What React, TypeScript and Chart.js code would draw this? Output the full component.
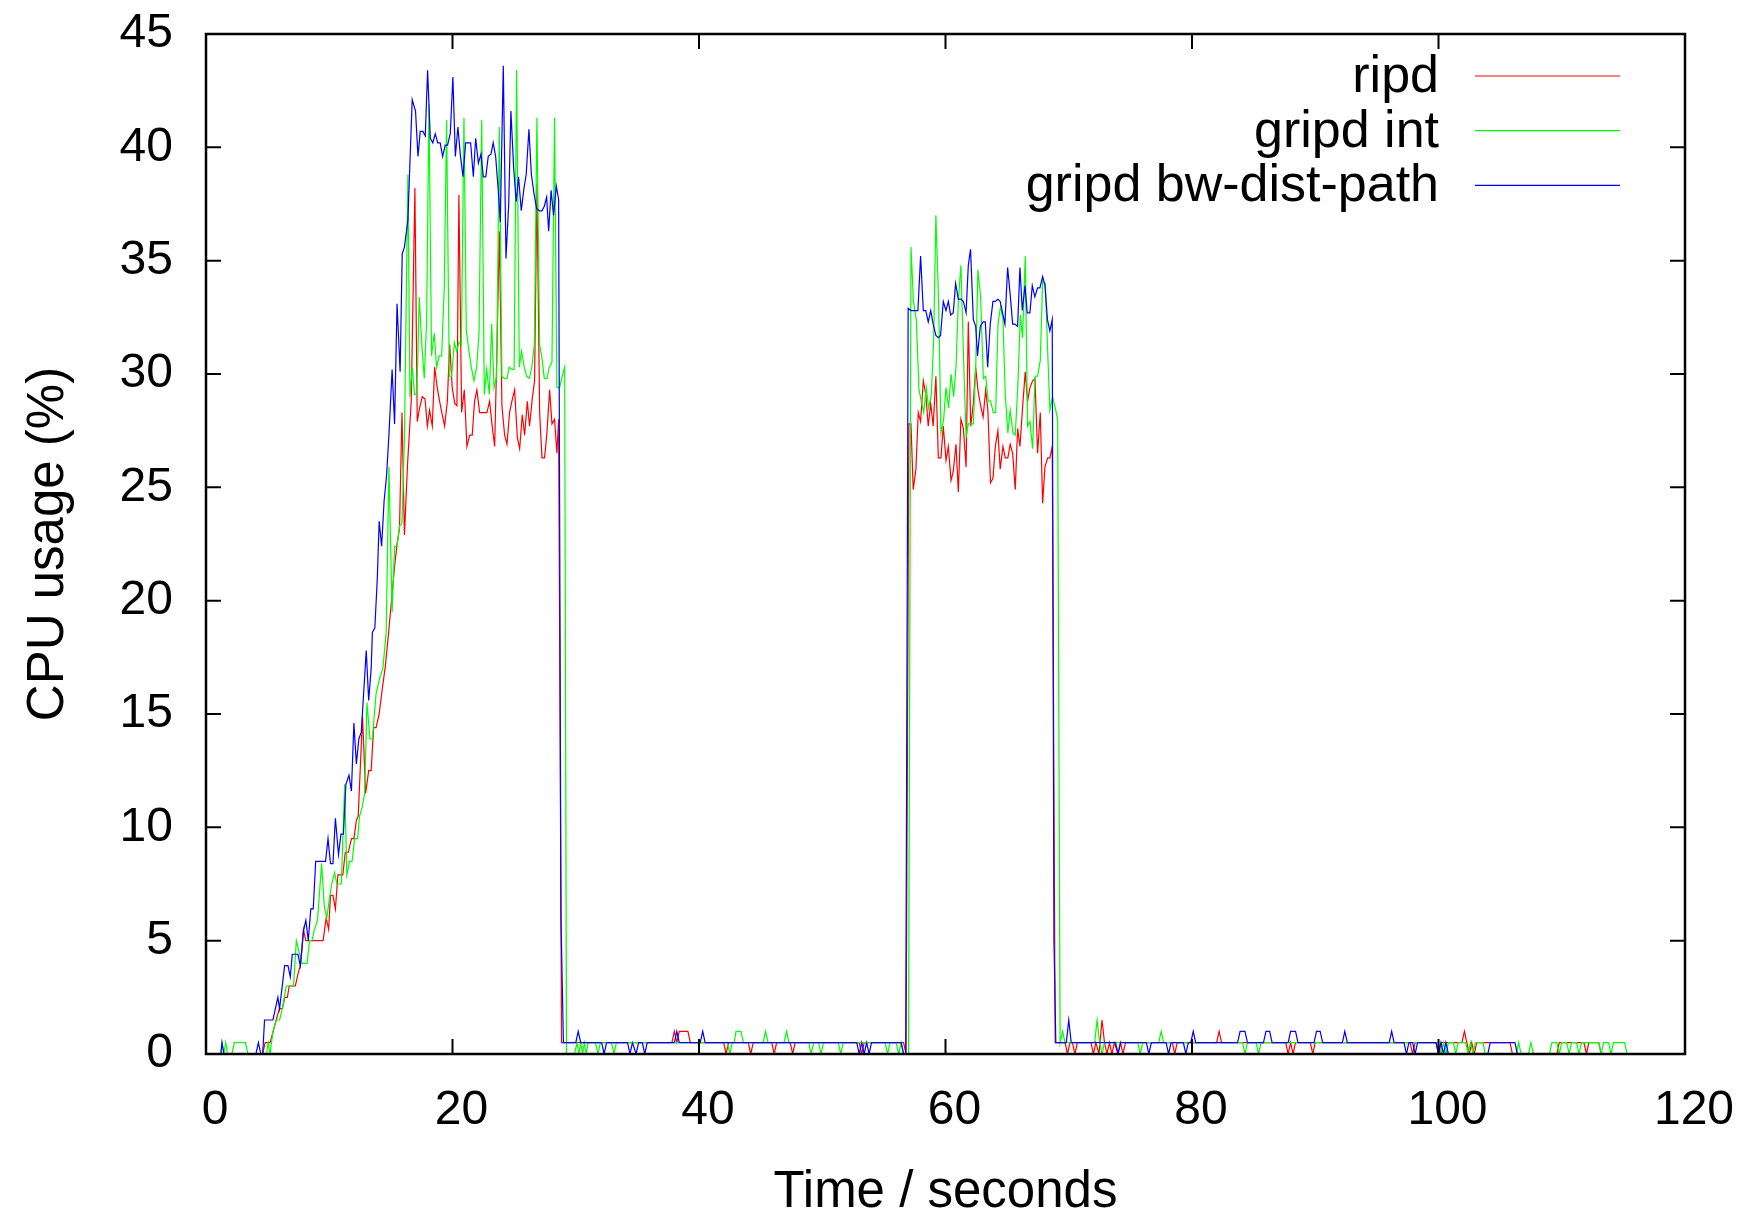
import React, { useEffect, useRef } from 'react';
import { Chart, registerables } from 'chart.js';

Chart.register(...registerables);

type Pt = [number, number];

const FONT_FAMILY = "'Liberation Sans', Arial, sans-serif";
const xTickValues = [0, 20, 40, 60, 80, 100, 120];
const yTickValues = [0, 5, 10, 15, 20, 25, 30, 35, 40, 45];
const xTitle = 'Time / seconds';
const yTitle = 'CPU usage (%)';
const seriesLabels = ['ripd', 'gripd int', 'gripd bw-dist-path'];
const seriesColors = ['#ff0000', '#00ff00', '#0000ff'];

// ---- ripd (red) ----
const ripdRise: Pt[] = [
  [1.2, 0], [4.6, 0], [4.8, 0.5], [5.2, 0.5], [5.45, 1.0], [5.7, 1.5], [5.95, 2.0], [6.2, 2.0], [6.4, 2.5], [6.6, 2.5],
  [6.75, 3.0], [7.25, 3.0], [7.45, 3.5], [7.7, 4.0], [7.9, 5.5], [8.1, 5.0], [9.5, 5.0], [9.75, 6.0], [9.95, 5.5],
  [10.1, 7.0], [10.3, 7.0], [10.5, 6.4], [10.7, 7.9], [11.1, 7.9], [11.3, 8.9], [11.55, 8.9], [11.8, 9.5], [12.0, 9.5],
  [12.2, 10.3], [12.35, 10.5], [12.5, 12.4], [12.7, 14.9], [12.95, 11.5], [13.2, 12.5], [13.4, 12.5], [13.6, 14.4],
  [13.8, 14.4], [14.05, 15.0], [14.3, 16.1], [14.55, 17.1], [14.8, 18.5], [15.05, 20.0], [15.3, 21.5], [15.5, 22.5],
  [15.7, 23.2], [15.9, 28.3], [16.1, 22.9], [16.35, 26.0], [16.65, 28.8],
];
const ripdPlateau1: Pt[] = [
  [16.95, 38.2], [17.14, 27.9], [17.33, 28.5], [17.55, 29.0], [17.77, 28.9], [17.96, 27.7], [18.14, 28.4], [18.36, 27.7],
  [18.55, 30.3], [18.76, 29.4], [18.95, 28.8], [19.17, 28.2], [19.36, 27.7], [19.58, 28.8], [19.77, 31.3], [19.98, 29.4],
  [20.18, 28.7], [20.36, 28.6], [20.52, 37.9], [20.74, 28.3], [20.96, 29.3], [21.17, 26.8], [21.39, 27.3], [21.6, 27.3],
  [21.79, 28.8], [21.98, 29.3], [22.2, 28.3], [22.41, 28.3], [22.6, 28.3], [22.79, 28.3], [23.01, 28.8], [23.2, 27.8],
  [23.42, 26.8], [23.6, 30.9], [23.8, 36.3], [24.01, 28.6], [24.23, 27.3], [24.42, 26.9], [24.63, 28.3], [24.82, 28.8],
  [25.04, 29.3], [25.26, 27.2], [25.45, 26.7], [25.66, 28.2], [25.85, 27.3], [26.07, 28.8], [26.25, 27.7], [26.47, 28.9],
  [26.66, 29.7], [26.85, 38.4], [27.07, 28.3], [27.26, 26.3], [27.47, 26.3], [27.66, 27.4], [27.88, 29.3], [28.07, 27.8],
  [28.28, 28.0], [28.47, 26.5], [28.61, 28.0], [28.85, 0.5],
];
const ripdIdle1: Pt[] = [
  [37.8, 0.5], [38.0, 1.0], [38.2, 0.5], [38.4, 1.0], [39.1, 1.0], [39.3, 0.5], [42.0, 0.5], [42.2, 0], [42.4, 0.5],
  [44.0, 0.5], [44.2, 0], [44.4, 0.5], [45.9, 0.5], [46.1, 0], [46.3, 0.5], [47.4, 0.5], [47.6, 0], [47.8, 0.5],
  [53.0, 0.5], [53.2, 0], [53.4, 0.5], [56.6, 0.5], [56.8, 0],
];
const ripdPlateau2: Pt[] = [
  [57.03, 27.8], [57.2, 27.8], [57.38, 24.9], [57.6, 25.8], [57.79, 28.3], [57.98, 27.9], [58.2, 29.7], [58.4, 29.1],
  [58.6, 27.7], [58.8, 28.7], [59.0, 27.7], [59.22, 29.9], [59.42, 26.3], [59.63, 26.3], [59.82, 27.7], [60.04, 26.2],
  [60.23, 26.8], [60.45, 25.3], [60.63, 25.7], [60.85, 26.9], [61.04, 24.8], [61.25, 28.0], [61.45, 27.6], [61.67, 25.9],
  [61.85, 32.3], [62.05, 27.7], [62.26, 28.7], [62.45, 30.3], [62.63, 29.3], [62.85, 28.6], [63.05, 28.1], [63.26, 29.3],
  [63.44, 28.4], [63.65, 25.2], [63.85, 25.4], [64.04, 26.8], [64.25, 27.5], [64.44, 25.8], [64.66, 26.8], [64.85, 26.3],
  [65.06, 26.3], [65.25, 26.9], [65.45, 26.5], [65.66, 24.9], [65.85, 27.6], [66.04, 26.8], [66.25, 28.5], [66.47, 30.1],
  [66.66, 28.8], [66.85, 29.4], [67.07, 29.7], [67.26, 29.8], [67.47, 26.5], [67.69, 28.3], [67.88, 24.3], [68.07, 25.9],
  [68.29, 26.3], [68.47, 26.3], [68.66, 26.8], [68.9, 0.5],
];
const ripdIdle2: Pt[] = [
  [69.7, 0.5], [69.9, 0], [70.1, 0.5], [70.3, 0.5], [70.5, 0], [70.7, 0.5], [71.8, 0.5], [72.0, 0], [72.2, 0.5],
  [72.45, 0], [72.7, 1.5], [72.9, 0.5], [73.1, 0], [73.3, 0.5], [73.5, 0], [73.7, 0.5], [74.0, 0], [74.2, 0.5],
  [74.4, 0], [74.6, 0.5], [78.4, 0.5], [78.6, 0], [78.8, 0.5], [82.0, 0.5], [82.2, 1.0], [82.4, 0.5], [87.6, 0.5],
  [87.8, 0], [88.0, 0.5], [88.2, 0], [88.4, 0.5], [89.6, 0.5], [89.8, 0], [90.0, 0.5], [97.7, 0.5], [97.9, 0],
  [98.1, 0.5], [99.8, 0.5], [100.0, 0], [100.2, 0.5], [101.9, 0.5], [102.1, 1.0], [102.3, 0.5], [102.5, 0], [102.7, 0.5],
  [102.9, 0], [103.1, 0.5], [105.8, 0.5], [106.0, 0], [109.6, 0], [109.8, 0.5], [111.8, 0.5], [112.0, 0], [112.2, 0.5],
  [113.0, 0.5], [113.2, 0], [115.3, 0],
];

// ---- gripd int (green) ----
const gintRise: Pt[] = [
  [1.2, 0], [1.3, 0.5], [1.45, 0], [1.6, 0.5], [1.75, 0], [2.1, 0], [2.3, 0.5], [3.2, 0.5], [3.4, 0], [4.9, 0],
  [5.05, 0.5], [5.2, 0], [5.43, 1.0], [5.7, 1.5], [5.97, 1.5], [6.19, 2.0], [6.35, 2.5], [6.51, 3.0], [7.1, 3.0],
  [7.33, 5.0], [7.55, 4.5], [7.8, 4.0], [8.2, 4.0], [8.4, 5.0], [8.6, 5.0], [8.8, 5.5], [9.05, 5.9], [9.38, 8.4],
  [9.6, 6.5], [9.8, 6.0], [10.0, 6.8], [10.2, 7.5], [10.43, 8.0], [10.62, 7.5], [10.98, 7.5], [11.25, 11.9], [11.43, 7.9],
  [11.65, 8.5], [11.85, 8.5], [12.06, 9.5], [12.3, 9.5], [12.46, 10.5], [12.68, 10.9], [12.87, 11.5], [13.06, 15.5],
  [13.3, 13.9], [13.5, 13.9], [13.8, 15.9], [14.1, 16.6], [14.35, 17.0], [14.62, 18.6], [14.84, 25.9], [15.1, 19.5],
  [15.3, 22.4], [15.5, 22.4], [15.7, 23.3], [15.9, 23.4], [16.1, 27.2],
];
const gintPlateau1: Pt[] = [
  [16.38, 38.8], [16.55, 29.0], [16.73, 30.3], [16.92, 29.1], [17.11, 29.1], [17.3, 33.4], [17.52, 31.2], [17.71, 29.8],
  [17.9, 32.3], [18.09, 41.9], [18.3, 30.8], [18.52, 31.8], [18.71, 30.3], [18.93, 30.8], [19.12, 30.8], [19.33, 33.8],
  [19.52, 41.2], [19.74, 29.9], [19.93, 29.9], [20.15, 31.4], [20.34, 31.0], [20.52, 31.4], [20.72, 31.3], [20.93, 41.3],
  [21.12, 31.9], [21.34, 31.0], [21.52, 30.3], [21.74, 29.7], [21.96, 30.3], [22.15, 31.8], [22.37, 41.2], [22.58, 29.1],
  [22.77, 30.2], [22.99, 29.1], [23.18, 32.2], [23.37, 29.4], [23.58, 29.9], [23.8, 40.9], [24.01, 29.9], [24.2, 29.8],
  [24.42, 29.8], [24.6, 30.3], [24.82, 30.2], [25.0, 30.2], [25.2, 43.4], [25.42, 30.3], [25.6, 31.0], [25.82, 30.3],
  [26.01, 29.9], [26.23, 29.8], [26.44, 30.3], [26.64, 31.3], [26.85, 41.3], [27.07, 31.3], [27.26, 30.7], [27.45, 29.8],
  [27.66, 29.8], [27.85, 30.3], [28.07, 30.5], [28.28, 41.3], [28.47, 29.4], [28.69, 29.4], [28.9, 29.9], [29.1, 30.3],
  [29.25, 0],
];
const gintIdle1: Pt[] = [
  [29.9, 0], [30.1, 0.5], [30.25, 0], [30.4, 0.5], [30.55, 0], [30.7, 0.5], [30.85, 0], [31.0, 0.5], [31.6, 0.5],
  [31.8, 0], [32.0, 0.5], [32.9, 0.5], [33.1, 0], [33.3, 0.5], [42.3, 0.5], [42.5, 0], [42.7, 0.5], [42.85, 0.5],
  [43.0, 1.0], [43.4, 1.0], [43.6, 0.5], [45.2, 0.5], [45.4, 1.0], [45.6, 0.5], [46.9, 0.5], [47.1, 1.0], [47.3, 0.5],
  [48.9, 0.5], [49.1, 0], [49.3, 0.5], [49.7, 0.5], [49.9, 0], [50.1, 0.5], [51.3, 0.5], [51.5, 0], [51.7, 0.5],
  [55.1, 0.5], [55.3, 0], [55.5, 0.5], [56.0, 0.5], [56.2, 0], [56.4, 0.5], [56.6, 0], [57.0, 0],
];
const gintPlateau2: Pt[] = [
  [57.2, 35.6], [57.4, 33.2], [57.63, 32.4], [57.85, 29.3], [58.04, 28.8], [58.23, 28.3], [58.44, 29.4], [58.63, 28.5],
  [58.85, 29.1], [59.04, 31.5], [59.22, 37.0], [59.45, 33.0], [59.63, 27.4], [59.85, 28.0], [60.04, 29.4], [60.25, 28.5],
  [60.45, 30.0], [60.66, 29.0], [60.85, 30.3], [61.04, 33.2], [61.25, 34.8], [61.45, 31.0], [61.67, 27.2], [61.85, 27.8],
  [62.05, 27.8], [62.26, 27.8], [62.45, 30.3], [62.63, 34.6], [62.85, 33.4], [63.07, 29.8], [63.26, 29.9], [63.47, 28.8],
  [63.66, 28.8], [63.88, 28.3], [64.07, 28.3], [64.26, 32.2], [64.47, 33.0], [64.66, 32.4], [64.85, 29.1], [65.06, 27.4],
  [65.25, 28.4], [65.47, 27.4], [65.66, 27.3], [65.88, 29.6], [66.07, 32.6], [66.25, 31.6], [66.47, 35.2], [66.66, 27.7],
  [66.85, 27.9], [67.07, 26.7], [67.26, 29.9], [67.47, 29.9], [67.69, 30.6], [67.88, 34.1], [68.1, 34.0], [68.29, 31.0],
  [68.47, 28.4], [68.69, 29.0], [68.9, 28.5], [69.1, 28.0], [69.3, 0.5],
];
const gintIdle2: Pt[] = [
  [69.5, 1.0], [69.7, 0.5], [72.1, 0.5], [72.3, 1.5], [72.5, 0.5], [72.7, 0], [72.9, 0.5], [75.6, 0.5], [75.8, 0],
  [76.0, 0.5], [77.3, 0.5], [77.5, 1.0], [77.7, 0.5], [84.1, 0.5], [84.3, 0], [84.5, 0.5], [85.2, 0.5], [85.4, 0],
  [85.6, 0.5], [100.0, 0.5], [100.2, 0], [100.4, 0.5], [100.6, 0], [100.8, 0.5], [101.2, 0.5], [101.4, 0], [101.6, 0.5],
  [102.2, 0.5], [102.4, 0], [102.6, 0.5], [102.8, 0], [103.0, 0.5], [103.6, 0.5], [103.8, 0], [106.3, 0], [106.5, 0.5],
  [106.7, 0], [107.3, 0], [107.5, 0.5], [107.7, 0], [109.0, 0], [109.2, 0.5], [109.6, 0.5], [109.8, 0], [110.0, 0.5],
  [110.4, 0.5], [110.6, 0], [110.8, 0.5], [111.2, 0.5], [111.4, 0], [111.6, 0.5], [113.0, 0.5], [113.2, 0], [113.4, 0.5],
  [113.8, 0.5], [114.0, 0], [114.2, 0.5], [115.1, 0.5], [115.3, 0],
];

// ---- gripd bw-dist-path (blue) ----
const gbwRise: Pt[] = [
  [1.2, 0], [1.3, 0.5], [1.45, 0], [4.05, 0], [4.25, 0.5], [4.45, 0], [4.6, 0], [4.75, 1.5], [5.43, 1.5], [5.83, 2.5],
  [5.97, 2.0], [6.38, 3.9], [6.65, 3.9], [6.84, 3.4], [7.0, 4.4], [7.46, 4.4], [7.65, 3.9], [7.92, 5.45], [8.1, 5.9],
  [8.3, 5.0], [8.5, 6.4], [8.7, 6.4], [8.9, 8.5], [9.7, 8.5], [9.9, 9.5], [10.1, 8.4], [10.3, 8.4], [10.5, 10.4],
  [10.75, 8.8], [10.95, 9.7], [11.15, 9.7], [11.35, 11.9], [11.6, 12.3], [11.8, 11.6], [12.0, 14.6], [12.2, 12.8],
  [12.4, 13.9], [12.6, 14.2], [12.8, 16.0], [13.0, 17.8], [13.2, 15.6], [13.4, 17.0], [13.5, 18.6], [13.7, 18.8],
  [13.9, 21.0], [14.05, 23.5], [14.25, 22.4], [14.45, 24.4], [14.65, 25.5], [14.85, 27.4], [15.1, 30.2], [15.3, 27.8],
  [15.5, 33.1], [15.75, 30.1], [15.92, 35.3], [16.1, 35.6],
];
const gbwPlateau1: Pt[] = [
  [16.38, 36.8], [16.73, 42.1], [17.0, 41.6], [17.2, 39.6], [17.38, 40.7], [17.6, 40.7], [17.79, 40.5], [17.98, 43.4],
  [18.2, 40.4], [18.4, 40.2], [18.6, 40.6], [18.8, 40.2], [19.0, 40.2], [19.2, 39.6], [19.41, 40.1], [19.6, 40.1],
  [19.82, 40.6], [20.03, 43.1], [20.23, 39.6], [20.44, 40.9], [20.63, 39.7], [20.85, 38.7], [21.07, 40.2], [21.28, 40.2],
  [21.47, 40.2], [21.69, 38.7], [21.88, 40.4], [22.1, 39.3], [22.31, 39.7], [22.5, 38.7], [22.7, 38.7], [22.9, 39.6],
  [23.12, 39.7], [23.3, 40.2], [23.5, 39.6], [23.7, 38.2], [23.88, 36.7], [24.12, 43.6], [24.34, 35.1], [24.56, 37.5],
  [24.74, 41.6], [24.96, 39.1], [25.17, 37.6], [25.36, 38.7], [25.58, 37.2], [25.8, 38.2], [25.98, 38.8], [26.2, 40.8],
  [26.4, 38.8], [26.6, 38.0], [26.82, 37.3], [27.04, 37.2], [27.26, 37.2], [27.45, 37.4], [27.64, 37.8], [27.8, 36.3],
  [28.0, 38.1], [28.2, 37.0], [28.42, 38.3], [28.61, 37.7], [28.8, 6.0], [29.0, 0.5],
];
const gbwIdle1: Pt[] = [
  [30.0, 0.5], [30.2, 1.0], [30.4, 0.5], [32.1, 0.5], [32.3, 0], [32.5, 0.5], [34.2, 0.5], [34.4, 0], [34.6, 0.5],
  [34.9, 0], [35.1, 0.5], [35.4, 0.5], [35.6, 0], [35.8, 0.5], [38.0, 0.5], [38.2, 1.0], [38.4, 0.5], [40.1, 0.5],
  [40.3, 1.0], [40.5, 0.5], [52.8, 0.5], [53.0, 0], [53.2, 0.5], [53.4, 0], [53.6, 0.5], [53.8, 0], [54.0, 0.5],
  [56.4, 0.5], [56.6, 0], [56.77, 0],
];
const gbwPlateau2: Pt[] = [
  [56.97, 32.9], [57.2, 32.8], [57.5, 32.8], [57.76, 32.8], [57.98, 35.2], [58.2, 32.8], [58.4, 32.8], [58.6, 32.3],
  [58.8, 32.8], [59.0, 32.2], [59.22, 31.7], [59.42, 31.6], [59.6, 31.7], [59.82, 33.2], [60.04, 32.8], [60.23, 33.2],
  [60.42, 32.6], [60.63, 32.7], [60.82, 34.0], [61.04, 33.3], [61.25, 33.3], [61.45, 33.2], [61.67, 32.7], [61.85, 34.8],
  [62.03, 35.5], [62.26, 32.4], [62.45, 32.1], [62.6, 30.8], [62.82, 32.1], [63.05, 32.3], [63.23, 32.3], [63.42, 30.3],
  [63.63, 32.2], [63.85, 33.2], [64.04, 33.2], [64.25, 33.3], [64.44, 33.2], [64.63, 32.7], [64.82, 32.2], [65.04, 34.7],
  [65.25, 33.5], [65.45, 32.2], [65.63, 32.2], [65.85, 32.1], [66.04, 34.7], [66.23, 32.8], [66.45, 33.9], [66.63, 32.7],
  [66.85, 32.7], [67.04, 33.9], [67.25, 33.4], [67.47, 33.8], [67.66, 33.8], [67.88, 34.3], [68.07, 33.9], [68.27, 32.4],
  [68.47, 31.9], [68.66, 32.4], [68.8, 5.0], [68.95, 0.5],
];
const gbwIdle2: Pt[] = [
  [69.8, 0.5], [70.0, 1.5], [70.2, 0.5], [73.8, 0.5], [74.0, 0], [74.2, 0.5], [76.3, 0.5], [76.5, 0], [76.7, 0.5],
  [77.9, 0.5], [78.1, 0], [78.3, 0.5], [79.3, 0.5], [79.5, 0], [79.7, 0.5], [79.9, 0.5], [80.1, 1.0], [80.3, 0.5],
  [83.7, 0.5], [83.9, 1.0], [84.3, 1.0], [84.5, 0.5], [85.8, 0.5], [86.0, 1.0], [86.3, 1.0], [86.5, 0.5], [87.8, 0.5],
  [88.0, 1.0], [88.4, 1.0], [88.6, 0.5], [89.9, 0.5], [90.1, 1.0], [90.4, 1.0], [90.6, 0.5], [92.2, 0.5], [92.4, 1.0],
  [92.6, 0.5], [96.0, 0.5], [96.2, 1.0], [96.4, 0.5], [97.2, 0.5], [97.4, 0], [97.6, 0.5], [97.9, 0.5], [98.1, 0],
  [98.3, 0.5], [99.8, 0.5], [100.0, 0], [100.2, 0.5], [100.4, 0], [100.6, 0.5], [100.8, 0], [104.0, 0], [104.2, 0.5],
  [106.2, 0.5], [106.4, 0], [115.3, 0],
];

const ripd: Pt[] = [...ripdRise, ...ripdPlateau1, ...ripdIdle1, ...ripdPlateau2, ...ripdIdle2];
const gripdInt: Pt[] = [...gintRise, ...gintPlateau1, ...gintIdle1, ...gintPlateau2, ...gintIdle2];
const gripdBw: Pt[] = [...gbwRise, ...gbwPlateau1, ...gbwIdle1, ...gbwPlateau2, ...gbwIdle2];
const seriesData: Pt[][] = [ripd, gripdInt, gripdBw];

const TICK_FONT_SIZE = 48;
const TITLE_FONT_SIZE = 51;
const LEGEND_FONT_SIZE = 52;

const framePlugin = {
  id: 'gnuplotFrame',
  afterDatasetsDraw(chart: any) {
    const { ctx, chartArea } = chart;
    const { left, right, top, bottom } = chartArea;
    const xs = chart.scales.x;
    const ys = chart.scales.y;
    const L = 15;
    ctx.save();
    ctx.strokeStyle = '#000';
    ctx.lineWidth = 2;
    ctx.beginPath();
    ys.ticks.forEach((t: any) => {
      const py = ys.getPixelForValue(t.value);
      ctx.moveTo(left, py); ctx.lineTo(left + L, py);
      ctx.moveTo(right, py); ctx.lineTo(right - L, py);
    });
    xs.ticks.forEach((t: any) => {
      const px = xs.getPixelForValue(t.value);
      ctx.moveTo(px, bottom); ctx.lineTo(px, bottom - L);
      ctx.moveTo(px, top); ctx.lineTo(px, top + L);
    });
    ctx.stroke();
    ctx.lineWidth = 2.5;
    ctx.strokeRect(left, top, right - left, bottom - top);

    // legend (top right, text right-aligned, sample line to the right)
    const textRight = 1439;
    const sampleX0 = 1475;
    const sampleX1 = 1620;
    const row0 = 76;
    const rowGap = 54.7;
    ctx.font = `${LEGEND_FONT_SIZE}px ${FONT_FAMILY}`;
    ctx.textAlign = 'right';
    ctx.textBaseline = 'alphabetic';
    chart.data.datasets.forEach((ds: any, i: number) => {
      const yy = row0 + i * rowGap;
      ctx.fillStyle = '#000';
      ctx.fillText(ds.label, textRight, yy + 16);
      ctx.strokeStyle = ds.borderColor;
      ctx.lineWidth = 1.2;
      ctx.beginPath();
      ctx.moveTo(sampleX0, yy);
      ctx.lineTo(sampleX1, yy);
      ctx.stroke();
    });
    ctx.restore();
  },
};

export default function App() {
  const canvasRef = useRef<HTMLCanvasElement | null>(null);

  useEffect(() => {
    const canvas = canvasRef.current;
    if (!canvas) return;
    const tickFont = { family: FONT_FAMILY, size: TICK_FONT_SIZE };
    const titleFont = { family: FONT_FAMILY, size: TITLE_FONT_SIZE };
    const chart = new Chart(canvas, {
      type: 'line',
      data: {
        datasets: seriesData.map((pts, i) => ({
          label: seriesLabels[i],
          data: pts.map(([x, y]) => ({ x, y })),
          borderColor: seriesColors[i],
          backgroundColor: seriesColors[i],
          borderWidth: 1.2,
          pointRadius: 0,
          tension: 0,
          fill: false,
          order: 3 - i,
        })),
      },
      options: {
        animation: false,
        responsive: false,
        devicePixelRatio: 1,
        layout: { padding: { top: 34, right: 64, left: 0, bottom: 0 } },
        plugins: {
          legend: { display: false },
          tooltip: { enabled: false },
        },
        scales: {
          x: {
            type: 'linear',
            min: 0,
            max: 120,
            afterBuildTicks: (scale: any) => {
              scale.ticks = xTickValues.map((v) => ({ value: v }));
            },
            afterFit: (scale: any) => {
              scale.height = 163;
              scale.paddingLeft = 0;
              scale.paddingRight = 0;
            },
            grid: { display: false, drawTicks: false },
            border: { display: false },
            ticks: {
              color: '#000',
              font: tickFont,
              padding: 28,
              labelOffset: 9,
              maxRotation: 0,
              autoSkip: false,
            },
            title: {
              display: true,
              text: xTitle,
              color: '#000',
              font: titleFont,
              padding: { top: 0, bottom: -6.5 },
            },
          },
          y: {
            type: 'linear',
            min: 0,
            max: 45,
            afterBuildTicks: (scale: any) => {
              scale.ticks = yTickValues.map((v) => ({ value: v }));
            },
            afterFit: (scale: any) => {
              scale.width = 206;
              scale.paddingTop = 0;
              scale.paddingBottom = 0;
            },
            grid: { display: false, drawTicks: false },
            border: { display: false },
            ticks: {
              color: '#000',
              font: tickFont,
              padding: 33,
              autoSkip: false,
            },
            title: {
              display: true,
              text: yTitle,
              color: '#000',
              font: titleFont,
              padding: { top: 18, bottom: 0 },
            },
          },
        },
      },
      plugins: [framePlugin],
    } as any);
    return () => chart.destroy();
  }, []);

  return (
    <div style={{ position: 'absolute', left: 0, top: 0, width: 1749, height: 1217, background: '#fff' }}>
      <canvas ref={canvasRef} width={1749} height={1217} style={{ display: 'block', width: 1749, height: 1217 }} />
    </div>
  );
}
